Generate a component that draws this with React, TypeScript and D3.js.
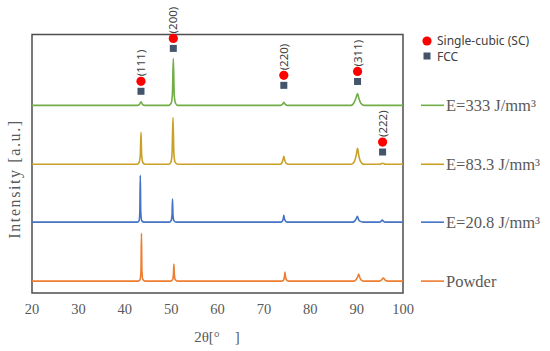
import React from "react"
import * as d3 from "d3"

// 2θ / intensity (a.u., relative to each pattern's own baseline)
const powder = [
  [20, 0], [42.9, 0], [43.3, 0.6], [43.5, 4], [43.6, 18.5], [43.7, 4], [43.9, 0.6], [44.4, 0],
  [49.9, 0], [50.3, 0.5], [50.5, 2.5], [50.6, 6.6], [50.7, 2.5], [50.9, 0.5], [51.4, 0],
  [73.9, 0], [74.3, 0.6], [74.45, 1.8], [74.55, 3.5], [74.65, 1.8], [74.85, 0.6], [75.3, 0],
  [89.4, 0], [89.9, 0.6], [90.25, 1.8], [90.45, 2.7], [90.7, 1.3], [91.0, 0.4], [91.6, 0],
  [94.9, 0], [95.4, 0.5], [95.75, 1.2], [96.1, 0.5], [96.6, 0], [100, 0],
]
const e208 = [
  [20, 0], [42.7, 0], [43.1, 0.6], [43.25, 4], [43.35, 18.1], [43.45, 4], [43.65, 0.6], [44.2, 0],
  [49.6, 0], [50.0, 0.6], [50.2, 2.8], [50.3, 8.9], [50.4, 2.8], [50.6, 0.6], [51.1, 0],
  [73.7, 0], [74.05, 0.6], [74.2, 1.6], [74.3, 2.7], [74.4, 1.6], [74.6, 0.6], [75.0, 0],
  [89.1, 0], [89.6, 0.5], [89.95, 1.5], [90.15, 2.3], [90.4, 1.1], [90.7, 0.4], [91.4, 0],
  [94.9, 0], [95.25, 0.3], [95.5, 0.8], [95.8, 0.3], [96.2, 0], [100, 0],
]
const e833 = [
  [20, 0], [42.7, 0], [43.1, 0.7], [43.35, 3.5], [43.5, 12.4], [43.65, 3.5], [43.9, 0.7], [44.4, 0],
  [49.5, 0], [49.95, 0.8], [50.2, 4], [50.4, 18.1], [50.6, 4], [50.85, 0.8], [51.4, 0],
  [73.5, 0], [73.9, 0.6], [74.15, 2], [74.3, 3.1], [74.5, 1.6], [74.75, 0.5], [75.3, 0],
  [88.9, 0], [89.5, 1.0], [89.95, 3.8], [90.2, 6.2], [90.5, 3.0], [90.9, 0.9], [91.6, 0],
  [95.0, 0], [95.6, 0.4], [96.2, 0], [100, 0],
]
const e333 = [
  [20, 0], [42.8, 0], [43.2, 0.4], [43.5, 1.4], [43.8, 0.4], [44.2, 0],
  [49.5, 0], [50.0, 0.8], [50.27, 4], [50.47, 18.1], [50.67, 4], [50.95, 0.8], [51.4, 0],
  [73.6, 0], [74.0, 0.4], [74.3, 1.2], [74.6, 0.4], [75.0, 0],
  [88.8, 0], [89.4, 0.9], [89.9, 3], [90.2, 4.6], [90.5, 2.6], [90.9, 0.8], [91.6, 0],
  [100, 0],
]

const seriesNames = ["Powder", "E=20.8 J/mm³", "E=83.3 J/mm³", "E=333 J/mm³"]
const seriesData = [powder, e208, e833, e333]
const seriesOffsets = [4.6, 27.4, 49.8, 72.6]
const seriesColors = ["#ED7D31", "#4472C4", "#C9A028", "#70AD47"]

// reflections: label, 2θ, marker height (a.u.)
const peakLabels = ["(111)", "(200)", "(220)", "(311)", "(222)"]
const peakAngles = [43.5, 50.47, 74.3, 90.2, 95.6]
const peakLevels = [81.9, 98.5, 84.2, 85.7, 58.4]

const xTicks = [20, 30, 40, 50, 60, 70, 80, 90, 100]

const W = 550
const H = 351
const margin = { left: 32, right: 147, top: 34.5, bottom: 58 }

export default function App() {
  const x = d3.scaleLinear().domain([20, 100]).range([margin.left, W - margin.right])
  const y = d3.scaleLinear().domain([0, 100]).range([H - margin.bottom, margin.top])
  const sq = 7
  const grey = "#595959"

  return (
    <svg width={W} height={H} style={{ position: "absolute", left: 0, top: 0, background: "#fff" }}>
      <rect
        x={x(20)}
        y={y(100)}
        width={x(100) - x(20)}
        height={y(0) - y(100)}
        fill="none"
        stroke="#4d4d4d"
        strokeWidth={1.5}
      />
      {seriesData.map((d, i) => {
        const line = d3
          .line<number[]>()
          .x(p => x(p[0]))
          .y(p => y(p[1] + seriesOffsets[i]))
          .curve(d3.curveMonotoneX)
        return (
          <path key={i} d={line(d) || ""} fill="none" stroke={seriesColors[i]} strokeWidth={1.6} />
        )
      })}
      {peakLabels.map((lab, i) => {
        const px = x(peakAngles[i])
        const py = y(peakLevels[i])
        return (
          <g key={lab}>
            <circle cx={px} cy={py} r={4.6} fill="#FF0000" />
            <rect x={px - sq / 2} y={py + 10 - sq / 2} width={sq} height={sq} fill="#44546A" />
            <text
              transform={`translate(${px + 4},${py - 5}) rotate(-90)`}
              fontFamily="Noto Sans"
              fontSize={11.5}
              fill="#404040"
            >
              {lab}
            </text>
          </g>
        )
      })}
      {xTicks.map(t => (
        <text
          key={t}
          x={x(t)}
          y={314}
          textAnchor="middle"
          fontFamily="Liberation Serif"
          fontSize={14.5}
          fill={grey}
        >
          {t}
        </text>
      ))}
      <text x={217} y={342} textAnchor="middle" fontFamily="Liberation Serif" fontSize={15} fill={grey}>
        2θ[°　]
      </text>
      <text
        transform={`translate(20,${179}) rotate(-90)`}
        textAnchor="middle"
        fontFamily="Liberation Serif"
        fontSize={16}
        letterSpacing={1.6}
        fill={grey}
      >
        Intensity [a.u.]
      </text>
      <circle cx={427} cy={41} r={4.6} fill="#FF0000" />
      <text x={437} y={45} fontFamily="Noto Sans" fontSize={12} fill="#404040">
        Single-cubic (SC)
      </text>
      <rect x={427 - sq / 2} y={56 - sq / 2} width={sq} height={sq} fill="#44546A" />
      <text x={437} y={60.5} fontFamily="Noto Sans" fontSize={12} fill="#404040">
        FCC
      </text>
      {seriesNames.map((n, i) => {
        const ly = y(seriesOffsets[i])
        return (
          <g key={n}>
            <line x1={421} x2={444} y1={ly} y2={ly} stroke={seriesColors[i]} strokeWidth={1.6} />
            <text x={446} y={ly + 5.5} fontFamily="Liberation Serif" fontSize={16.5} fill={grey}>
              {n}
            </text>
          </g>
        )
      })}
    </svg>
  )
}
